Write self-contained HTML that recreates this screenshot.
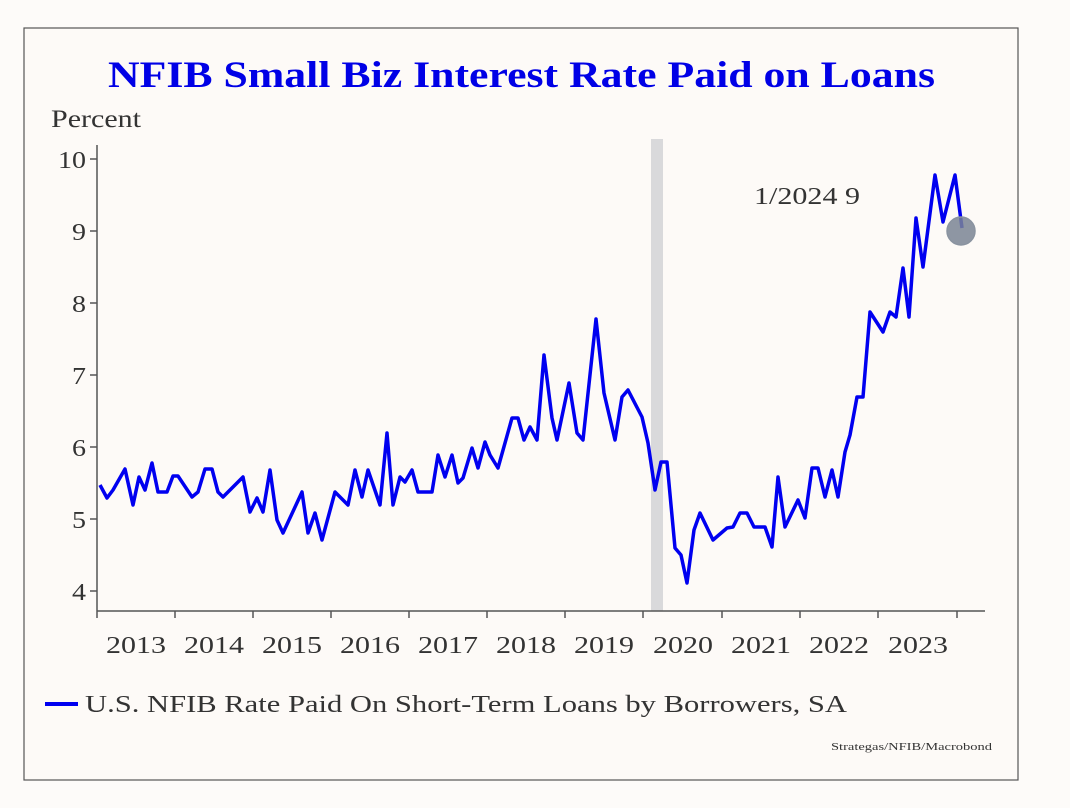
<!DOCTYPE html>
<html><head><style>
body{margin:0;background:#fff;}
svg{display:block;font-family:"Liberation Serif",serif;}
</style></head><body>
<svg width="1070" height="808" viewBox="0 0 1070 808">
<rect x="0" y="0" width="1070" height="808" fill="#fdfbf9"/>
<rect x="24" y="28" width="994" height="752" fill="#fdfaf7" stroke="#555" stroke-width="1.2"/>
<text x="108" y="87" textLength="827" lengthAdjust="spacingAndGlyphs" font-size="37" font-weight="bold" fill="#0000e6">NFIB Small Biz Interest Rate Paid on Loans</text>
<text x="51" y="127" textLength="90" lengthAdjust="spacingAndGlyphs" font-size="25" fill="#333">Percent</text>
<rect x="651" y="139" width="12" height="472" fill="#d9d9db"/>
<g stroke="#555" stroke-width="1.5">
<line x1="97" y1="145" x2="97" y2="611"/>
<line x1="97" y1="611" x2="985" y2="611"/>
<line x1="90" y1="159" x2="97" y2="159"/><line x1="90" y1="231" x2="97" y2="231"/>
<line x1="90" y1="303" x2="97" y2="303"/><line x1="90" y1="375" x2="97" y2="375"/>
<line x1="90" y1="447" x2="97" y2="447"/><line x1="90" y1="519" x2="97" y2="519"/>
<line x1="90" y1="591" x2="97" y2="591"/>
<line x1="97" y1="611" x2="97" y2="618"/><line x1="175" y1="611" x2="175" y2="618"/>
<line x1="253" y1="611" x2="253" y2="618"/><line x1="331" y1="611" x2="331" y2="618"/>
<line x1="409" y1="611" x2="409" y2="618"/><line x1="487" y1="611" x2="487" y2="618"/>
<line x1="565" y1="611" x2="565" y2="618"/><line x1="643" y1="611" x2="643" y2="618"/>
<line x1="722" y1="611" x2="722" y2="618"/><line x1="800" y1="611" x2="800" y2="618"/>
<line x1="878" y1="611" x2="878" y2="618"/><line x1="957" y1="611" x2="957" y2="618"/>
</g>
<g font-size="24" fill="#333">
<text x="58" y="168" textLength="28" lengthAdjust="spacingAndGlyphs">10</text>
<text x="72" y="240" textLength="14" lengthAdjust="spacingAndGlyphs">9</text>
<text x="72" y="312" textLength="14" lengthAdjust="spacingAndGlyphs">8</text>
<text x="72" y="384" textLength="14" lengthAdjust="spacingAndGlyphs">7</text>
<text x="72" y="456" textLength="14" lengthAdjust="spacingAndGlyphs">6</text>
<text x="72" y="528" textLength="14" lengthAdjust="spacingAndGlyphs">5</text>
<text x="72" y="600" textLength="14" lengthAdjust="spacingAndGlyphs">4</text>
</g>
<g font-size="24" fill="#333" lengthAdjust="spacingAndGlyphs">
<text x="106" y="653" textLength="60" lengthAdjust="spacingAndGlyphs">2013</text>
<text x="184" y="653" textLength="60" lengthAdjust="spacingAndGlyphs">2014</text>
<text x="262" y="653" textLength="60" lengthAdjust="spacingAndGlyphs">2015</text>
<text x="340" y="653" textLength="60" lengthAdjust="spacingAndGlyphs">2016</text>
<text x="418" y="653" textLength="60" lengthAdjust="spacingAndGlyphs">2017</text>
<text x="496" y="653" textLength="60" lengthAdjust="spacingAndGlyphs">2018</text>
<text x="574" y="653" textLength="60" lengthAdjust="spacingAndGlyphs">2019</text>
<text x="653" y="653" textLength="60" lengthAdjust="spacingAndGlyphs">2020</text>
<text x="731" y="653" textLength="60" lengthAdjust="spacingAndGlyphs">2021</text>
<text x="809" y="653" textLength="60" lengthAdjust="spacingAndGlyphs">2022</text>
<text x="888" y="653" textLength="60" lengthAdjust="spacingAndGlyphs">2023</text>
</g>
<text x="754" y="204" textLength="106" lengthAdjust="spacingAndGlyphs" font-size="24" fill="#333">1/2024 9</text>
<polyline fill="none" stroke="#0000f0" stroke-width="3.5" stroke-linejoin="round" points="100,485 107,498 113,490 125,469 133,505 139,477 145,490 152,463 158,492 167,492 173,476 178,476 192,497 198,492 205,469 212,469 218,492 223,497 243,477 250,512 257,498 263,512 270,470 277,520 283,533 302,492 308,533 315,513 322,540 335,492 348,505 355,470 362,497 368,470 380,505 387,433 393,505 400,477 405,482 412,470 418,492 432,492 438,455 445,477 452,455 458,483 463,478 472,448 478,468 485,442 490,455 498,468 512,418 518,418 524,440 530,427 537,440 544,355 552,418 557,440 569,383 577,433 583,440 596,319 604,393 615,440 622,397 628,390 642,417 648,443 655,490 661,462 667,462 675,548 681,555 687,583 694,530 700,513 713,540 727,528 733,527 740,513 747,513 754,527 765,527 772,547 778,477 785,527 798,500 805,518 812,468 818,468 825,497 832,470 838,497 845,452 850,435 857,397 863,397 870,312 883,332 890,312 896,317 903,268 909,317 916,218 923,267 935,175 943,222 955,175 962,228"/>
<circle cx="961" cy="231" r="14" fill="#7a8494" fill-opacity="0.85" stroke="#8a93a0" stroke-width="1.5"/>
<line x1="45" y1="704" x2="78" y2="704" stroke="#0000f0" stroke-width="4"/>
<text x="85" y="712" textLength="762" lengthAdjust="spacingAndGlyphs" font-size="24" fill="#333">U.S. NFIB Rate Paid On Short-Term Loans by Borrowers, SA</text>
<text x="831" y="750" textLength="161" lengthAdjust="spacingAndGlyphs" font-size="11" fill="#333">Strategas/NFIB/Macrobond</text>
</svg>
</body></html>
